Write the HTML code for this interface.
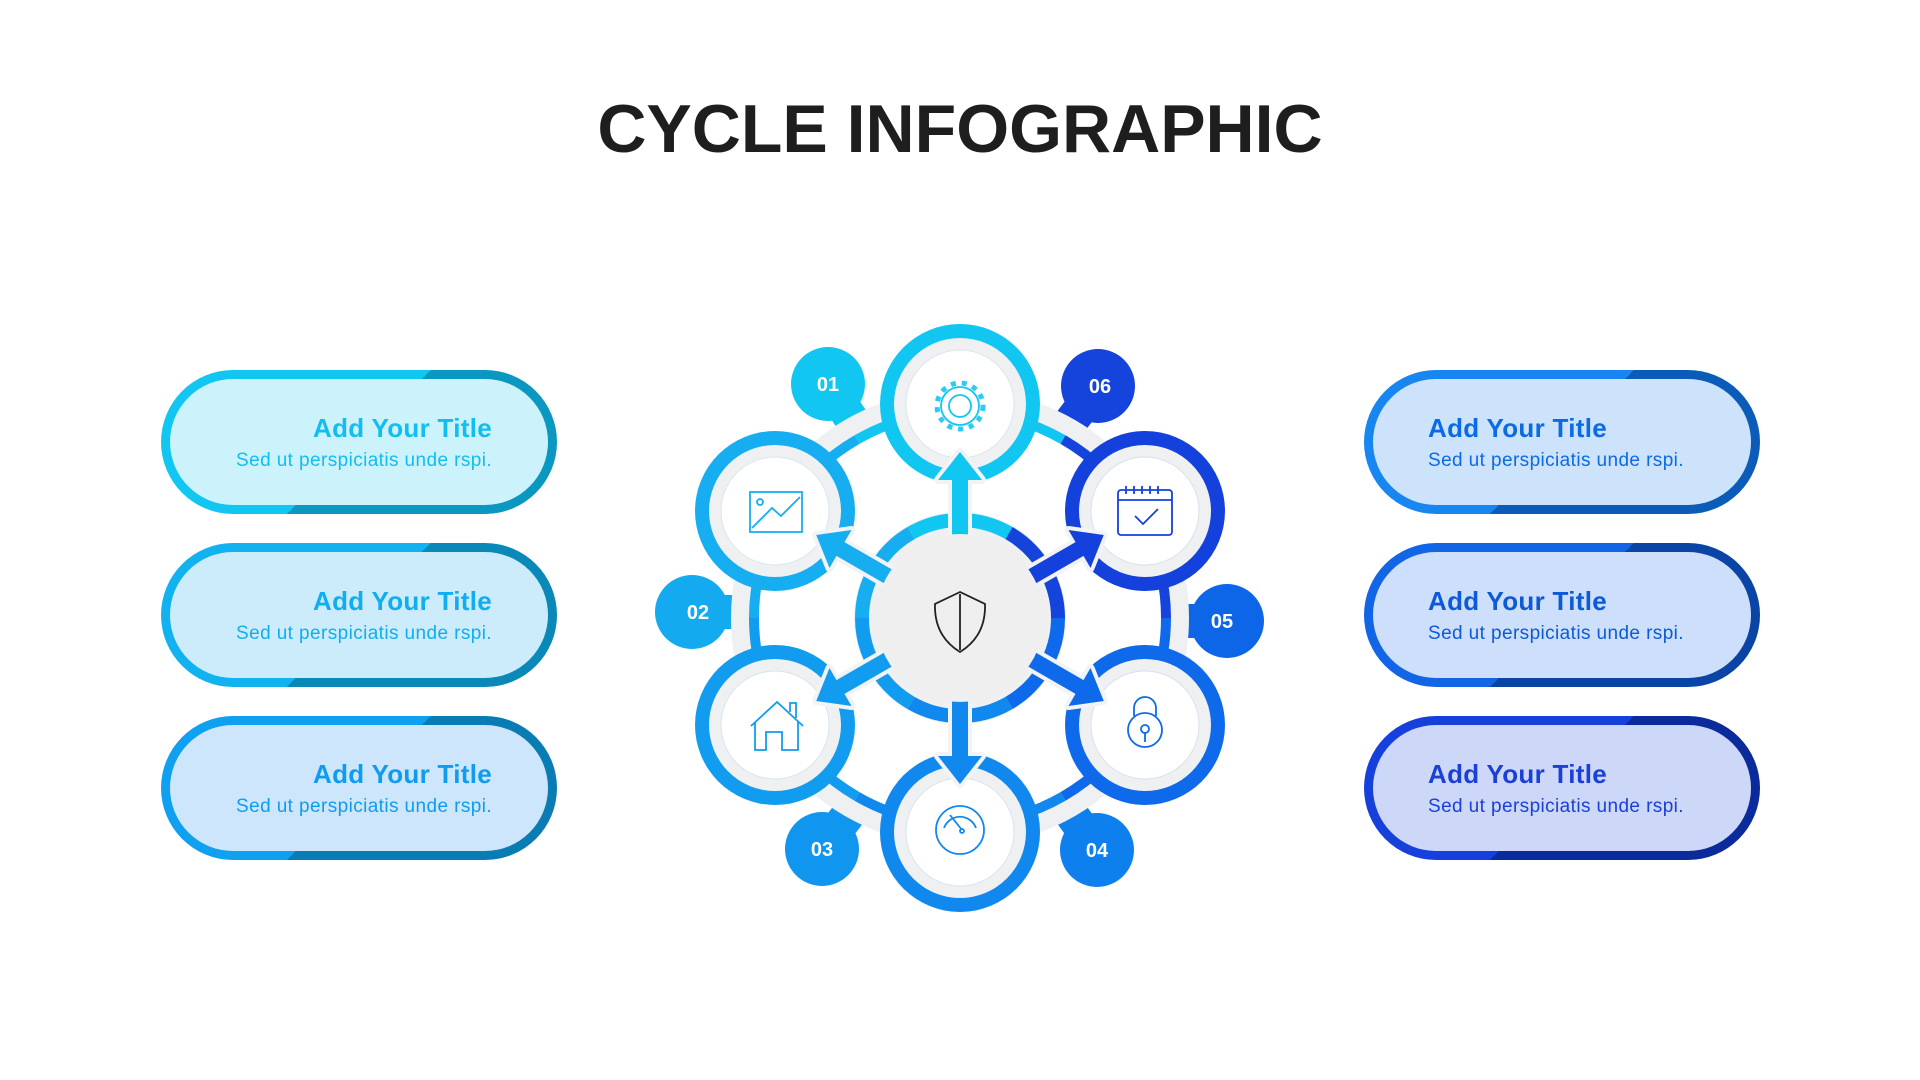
<!DOCTYPE html>
<html><head><meta charset="utf-8"><style>
body{margin:0;width:1920px;height:1080px;background:#fff;overflow:hidden;position:relative;font-family:"Liberation Sans",Arial,sans-serif}
h1{position:absolute;top:90px;left:0;width:1920px;text-align:center;margin:0;font-size:68px;font-weight:700;color:#1e1e1e;letter-spacing:0px}
.pill{position:absolute;width:396px;height:144px;border-radius:72px}
.pill .in{position:absolute;left:9px;top:9px;right:9px;bottom:9px;border-radius:63px}
.pill .t{position:absolute;font-weight:700;font-size:26px;top:34px;letter-spacing:0.3px;white-space:nowrap}
.pill .s{position:absolute;font-size:19px;top:71px;letter-spacing:0.4px;white-space:nowrap}
.L .t,.L .s{right:56px;text-align:right}
.R .t,.R .s{left:55px}
</style></head><body>
<h1>CYCLE INFOGRAPHIC</h1>

<div class="pill L" style="left:161px;top:370px;background:linear-gradient(135deg,#12c6f2 50%,#0a97c0 50%)"><div class="in" style="background:#ccf2fc"><div class="t" style="color:#12bdf0">Add Your Title</div><div class="s" style="color:#12bdf0">Sed ut perspiciatis unde rspi.</div></div></div>
<div class="pill L" style="left:161px;top:543px;background:linear-gradient(135deg,#12b2f0 50%,#0a88b8 50%)"><div class="in" style="background:#ccecfc"><div class="t" style="color:#10aef0">Add Your Title</div><div class="s" style="color:#10aef0">Sed ut perspiciatis unde rspi.</div></div></div>
<div class="pill L" style="left:161px;top:716px;background:linear-gradient(135deg,#10a0f0 50%,#0a7cb4 50%)"><div class="in" style="background:#cde6fb"><div class="t" style="color:#0f9cf0">Add Your Title</div><div class="s" style="color:#0f9cf0">Sed ut perspiciatis unde rspi.</div></div></div>

<div class="pill R" style="left:1364px;top:370px;background:linear-gradient(135deg,#1886f0 50%,#0b5cb8 50%)"><div class="in" style="background:#cde3fb"><div class="t" style="color:#0b6ae6">Add Your Title</div><div class="s" style="color:#0b6ae6">Sed ut perspiciatis unde rspi.</div></div></div>
<div class="pill R" style="left:1364px;top:543px;background:linear-gradient(135deg,#1266e6 50%,#0a44a4 50%)"><div class="in" style="background:#cddffb"><div class="t" style="color:#0d5ad8">Add Your Title</div><div class="s" style="color:#0d5ad8">Sed ut perspiciatis unde rspi.</div></div></div>
<div class="pill R" style="left:1364px;top:716px;background:linear-gradient(135deg,#1640dc 50%,#0b2a9c 50%)"><div class="in" style="background:#cdd8f8"><div class="t" style="color:#1a40d8">Add Your Title</div><div class="s" style="color:#1a40d8">Sed ut perspiciatis unde rspi.</div></div></div>

<svg style="position:absolute;left:0;top:0" width="1920" height="1080">
<g stroke-linecap="round">
<line x1="828" y1="384" x2="852" y2="420" stroke="#12c6f2" stroke-width="34"/>
<line x1="1098" y1="386" x2="1072" y2="420" stroke="#1444dc" stroke-width="34"/>
<line x1="692" y1="612" x2="735" y2="612" stroke="#14aaf0" stroke-width="34"/>
<line x1="1227" y1="621" x2="1186" y2="621" stroke="#0d66e8" stroke-width="34"/>
<line x1="822" y1="849" x2="848" y2="815" stroke="#1096ee" stroke-width="34"/>
<line x1="1097" y1="850" x2="1072" y2="815" stroke="#0e80ee" stroke-width="34"/>
</g>
<circle cx="828" cy="384" r="37" fill="#12c6f2"/>
<circle cx="1098" cy="386" r="37" fill="#1444dc"/>
<circle cx="692" cy="612" r="37" fill="#14aaf0"/>
<circle cx="1227" cy="621" r="37" fill="#0d66e8"/>
<circle cx="822" cy="849" r="37" fill="#1096ee"/>
<circle cx="1097" cy="850" r="37" fill="#0e80ee"/>
<g fill="#fff" font-weight="700" font-size="20" text-anchor="middle" font-family="Liberation Sans, sans-serif">
<text x="828" y="391">01</text><text x="1100" y="393">06</text><text x="698" y="619">02</text>
<text x="1222" y="628">05</text><text x="822" y="856">03</text><text x="1097" y="857">04</text>
</g>
<circle cx="960" cy="618" r="216" fill="none" stroke="#eff0f2" stroke-width="26"/>
<g fill="none" stroke-width="10">
<path d="M857 439.6 A206 206 0 0 1 1063 439.6" stroke="#12c6f2"/>
<path d="M1063 439.6 A206 206 0 0 1 1166 618" stroke="#1444dc"/>
<path d="M1166 618 A206 206 0 0 1 1063 796.4" stroke="#0e6aea"/>
<path d="M1063 796.4 A206 206 0 0 1 857 796.4" stroke="#1088ee"/>
<path d="M857 796.4 A206 206 0 0 1 754 618" stroke="#129cf0"/>
<path d="M754 618 A206 206 0 0 1 857 439.6" stroke="#16aef0"/>
</g>
<circle cx="960" cy="618" r="106" fill="#eff0f2"/>
<g fill="none" stroke-width="14">
<path d="M911 533.1 A98 98 0 0 1 1009 533.1" stroke="#12c6f2"/>
<path d="M1009 533.1 A98 98 0 0 1 1058 618" stroke="#1444dc"/>
<path d="M1058 618 A98 98 0 0 1 1009 702.9" stroke="#0e6aea"/>
<path d="M1009 702.9 A98 98 0 0 1 911 702.9" stroke="#1088ee"/>
<path d="M911 702.9 A98 98 0 0 1 862 618" stroke="#129cf0"/>
<path d="M862 618 A98 98 0 0 1 911 533.1" stroke="#16aef0"/>
</g>
<circle cx="960" cy="618" r="86" fill="#efefef"/>
<g>
<circle cx="960" cy="404" r="80" fill="#12c6f2"/><circle cx="960" cy="404" r="66" fill="#eff0f2"/><circle cx="960" cy="404" r="54" fill="#fff" stroke="#d8e6ee"/>
<circle cx="1145" cy="511" r="80" fill="#1440dc"/><circle cx="1145" cy="511" r="66" fill="#eff0f2"/><circle cx="1145" cy="511" r="54" fill="#fff" stroke="#d8e0ee"/>
<circle cx="1145" cy="725" r="80" fill="#0e6aea"/><circle cx="1145" cy="725" r="66" fill="#eff0f2"/><circle cx="1145" cy="725" r="54" fill="#fff" stroke="#d8e0ee"/>
<circle cx="960" cy="832" r="80" fill="#1088ee"/><circle cx="960" cy="832" r="66" fill="#eff0f2"/><circle cx="960" cy="832" r="54" fill="#fff" stroke="#d8e4ee"/>
<circle cx="775" cy="725" r="80" fill="#129cf0"/><circle cx="775" cy="725" r="66" fill="#eff0f2"/><circle cx="775" cy="725" r="54" fill="#fff" stroke="#d8e4ee"/>
<circle cx="775" cy="511" r="80" fill="#16aef0"/><circle cx="775" cy="511" r="66" fill="#eff0f2"/><circle cx="775" cy="511" r="54" fill="#fff" stroke="#d8e6ee"/>
</g>
<defs><polygon id="ar" points="1040,610 1098,610 1098,596 1126,618 1098,640 1098,626 1040,626" stroke="#f2f3f5" stroke-width="8" stroke-linejoin="round" paint-order="stroke"/></defs>
<use href="#ar" fill="#12c6f2" transform="rotate(-90 960 618)"/>
<use href="#ar" fill="#1440dc" transform="rotate(-30 960 618)"/>
<use href="#ar" fill="#0e6aea" transform="rotate(30 960 618)"/>
<use href="#ar" fill="#1088ee" transform="rotate(90 960 618)"/>
<use href="#ar" fill="#129cf0" transform="rotate(150 960 618)"/>
<use href="#ar" fill="#16aef0" transform="rotate(210 960 618)"/>
<circle cx="960" cy="618" r="84" fill="#efefef"/>
<g fill="none" stroke-width="1.8">
<g stroke="#12c6f2"><circle cx="960" cy="406" r="23" stroke-width="5" stroke-dasharray="5 6" stroke="#12c6f2" opacity="0.9"/><circle cx="960" cy="406" r="19" fill="#fff"/><circle cx="960" cy="406" r="11"/></g>
<g stroke="#16aef0"><rect x="750" y="492" width="52" height="40"/><circle cx="760" cy="502" r="3"/><path d="M752 528 L772 508 L781 516 L800 497"/></g>
<g stroke="#1440dc"><rect x="1118" y="490" width="54" height="45" rx="3"/><path d="M1118 500 H1172 M1126 486 V494 M1134 486 V494 M1142 486 V494 M1150 486 V494 M1158 486 V494 M1135 516 L1143 524 L1158 509"/></g>
<g stroke="#0e6aea"><path d="M1134 716 V708 A11 11 0 0 1 1156 708 V716"/><circle cx="1145" cy="730" r="17"/><circle cx="1145" cy="729" r="4"/><path d="M1145 733 V742"/></g>
<g stroke="#1088ee"><circle cx="960" cy="830" r="24"/><path d="M944 828 A17 17 0 0 1 976 828"/><path d="M950 815 L962 830"/><circle cx="962" cy="831" r="2"/></g>
<g stroke="#129cf0"><path d="M751 726 L777 702 L803 726 M755 722 V750 H766 V732 H782 V750 H798 V722 M790 712 V703 H796 V718"/></g>
<g stroke="#222" stroke-width="1.8"><path d="M960 592 L935 604 Q934 636 960 652 Q986 636 985 604 Z M960 594 V650"/></g>
</g>
</svg>
</body></html>
